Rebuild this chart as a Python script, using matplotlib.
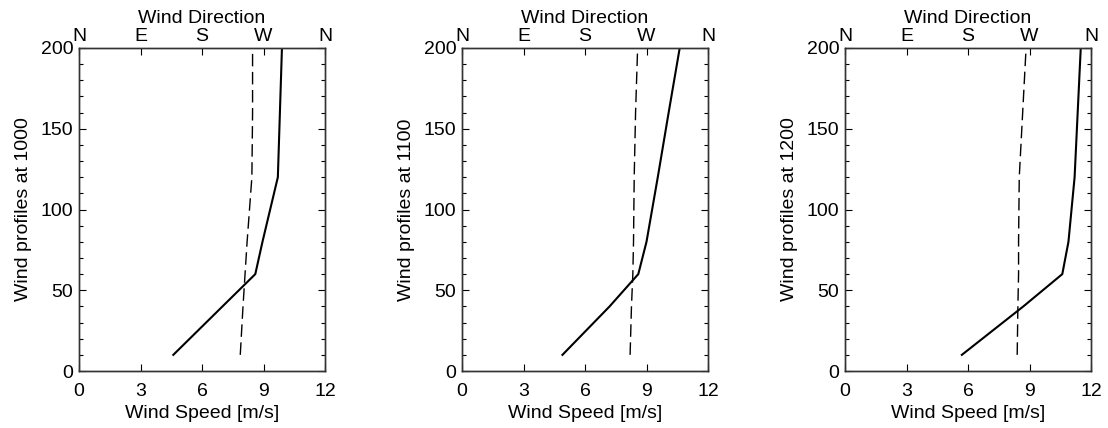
import matplotlib.pyplot as plt
import numpy as np

plt.rcParams['font.family'] = ['Liberation Sans', 'DejaVu Sans']

# heights [m]
hgt_1000 = [10, 40, 60, 80, 120, 160, 200]
spd_1000 = [4.6, 7.0, 8.6, 8.95, 9.7, 9.8, 9.9]
dir_1000 = [236, 240, 243, 246, 253, 254, 254]

hgt_1100 = [10, 40, 60, 80, 120, 160, 200]
spd_1100 = [4.9, 7.2, 8.6, 9.0, 9.55, 10.08, 10.62]
dir_1100 = [246, 248, 250, 251, 252, 254, 257]

hgt_1200 = [10, 40, 60, 80, 120, 160, 200]
spd_1200 = [5.7, 8.7, 10.6, 10.9, 11.2, 11.35, 11.5]
dir_1200 = [252, 253, 254, 254, 255, 260, 265]

times = ['1000', '1100', '1200']
profiles = [(hgt_1000, spd_1000, dir_1000),
            (hgt_1100, spd_1100, dir_1100),
            (hgt_1200, spd_1200, dir_1200)]

dir_ticks = [0, 90, 180, 270, 360]
dir_labels = ['N', 'E', 'S', 'W', 'N']

fig = plt.figure(figsize=(11.08, 4.28), dpi=100)
lefts = [79, 462, 845]

for i, (t, (h, s, d)) in enumerate(zip(times, profiles)):
    ax = fig.add_axes([lefts[i] / 1108, 57 / 428, 246 / 1108, 323 / 428])
    ax.plot(s, h, color='black', lw=1.5)
    ax.set_xlim(0, 12)
    ax.set_ylim(0, 200)
    ax.set_xticks([0, 3, 6, 9, 12])
    ax.set_yticks([0, 50, 100, 150, 200])
    ax.set_yticks(np.arange(0, 201, 10), minor=True)
    ax.tick_params(direction='in', length=5, width=0.8, labelsize=14, right=True)
    ax.tick_params(axis='x', pad=9)
    ax.tick_params(axis='y', pad=4)
    ax.tick_params(which='minor', direction='in', length=3, width=0.8, right=True)
    ax.set_xlabel('Wind Speed [m/s]', fontsize=14, labelpad=3)
    ax.set_ylabel('Wind profiles at ' + t, fontsize=14, labelpad=6)

    ax2 = ax.twiny()
    ax2.plot(d, h, color='black', lw=1, dashes=(9, 4))
    ax2.set_xlim(0, 360)
    ax2.set_xticks(dir_ticks)
    ax2.set_xticklabels(dir_labels)
    ax2.tick_params(direction='in', length=5, width=0.8, labelsize=14, pad=2)
    ax2.set_xlabel('Wind Direction', fontsize=14, labelpad=3.5)
    for a in (ax, ax2):
        for sp in a.spines.values():
            sp.set_linewidth(1)
            sp.set_color('#333333')

plt.savefig('out.png', dpi=100)
